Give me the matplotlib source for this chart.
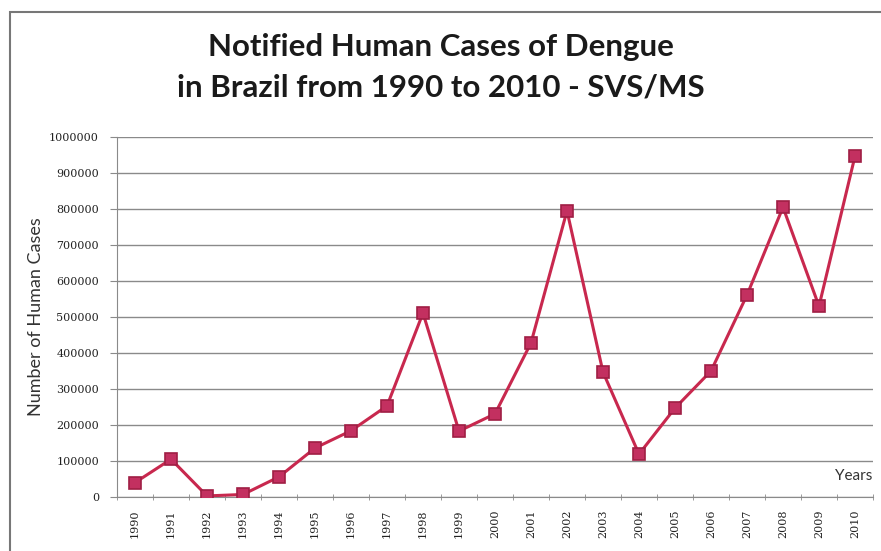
import matplotlib
matplotlib.use("Agg")
import matplotlib.pyplot as plt
from matplotlib.patches import Rectangle

years = ["1990", "1991", "1992", "1993", "1994", "1995", "1996", "1997",
         "1998", "1999", "2000", "2001", "2002", "2003", "2004", "2005",
         "2006", "2007", "2008", "2009", "2010"]
cases = [40000, 105000, 3000, 7000, 56000, 136000, 184000, 253000,
         511000, 183000, 231000, 428000, 795000, 347000, 119000, 247000,
         350000, 561000, 805000, 530000, 947000]
yticks = list(range(0, 1000001, 100000))

line_col = "#c8284e"
grid_col = "#8a8a8a"

fig = plt.figure(figsize=(8.81, 5.51), dpi=100)
ax = fig.add_axes([117/881, 54/551, 756/881, 360/551])

xs = list(range(len(years)))
ax.plot(xs, cases, color=line_col, lw=2.2, marker="s", ms=8.5,
        mfc="#c33060", mec="#a01e44", mew=1.2, zorder=3)

ax.set_xlim(-0.5, len(years) - 0.5)
ax.set_ylim(0, 1000000)
ax.set_yticks(yticks)
ax.set_yticklabels([str(v) for v in yticks], fontsize=8,
                   family="DejaVu Serif", color="#222222")
ax.yaxis.grid(True, color=grid_col, lw=1)
ax.set_axisbelow(True)

ax.set_xticks(xs)
ax.set_xticklabels(years, rotation=90, fontsize=8, family="DejaVu Serif",
                   color="#222222")
ax.set_xticks([x - 0.5 for x in xs] + [len(years) - 0.5], minor=True)
ax.tick_params(axis="x", which="major", length=0, pad=9)
ax.tick_params(axis="x", which="minor", length=4, direction="inout",
               color=grid_col)
ax.tick_params(axis="y", length=5, color=grid_col, pad=8)

for s in ["top", "right"]:
    ax.spines[s].set_visible(False)
for s in ["left", "bottom"]:
    ax.spines[s].set_color(grid_col)

ax.set_ylabel("Number of Human Cases", fontsize=13, color="#333333",
              family="Lato", labelpad=4)

ax.text(19.45, 58000, "Years", fontsize=11, color="#333333", family="Lato",
        va="center", ha="left", clip_on=False)

fig.text(0.5, 1 - 47/551, "Notified Human Cases of Dengue", ha="center",
         va="center", fontsize=22.5, fontweight="bold", family="Lato",
         color="#1a1a1a")
fig.text(0.5, 1 - 88/551, "in Brazil from 1990 to 2010 - SVS/MS", ha="center",
         va="center", fontsize=22.5, fontweight="bold", family="Lato",
         color="#1a1a1a")

fig.patches.append(Rectangle((10/881, -0.05), 1.0, 1 - 12/551 + 0.05,
                             transform=fig.transFigure, fill=False,
                             edgecolor="#777777", lw=1.5))

fig.savefig("out.png", dpi=100)
